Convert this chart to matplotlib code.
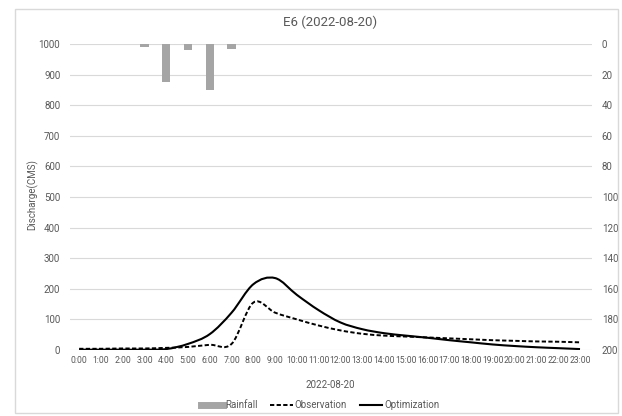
import numpy as np
import matplotlib
matplotlib.use("Agg")
from matplotlib import pyplot as plt
from matplotlib.path import Path
from matplotlib.patches import PathPatch, Rectangle
from matplotlib.lines import Line2D

plt.rcParams['font.family'] = ['Roboto', 'DejaVu Sans']

# hourly data
hours = ["%d:00" % h for h in range(24)]
rainfall = [0, 0, 0, 2, 25, 4, 30, 3, 0, 0, 0, 0,
            0, 0, 0, 0, 0, 0, 0, 0, 0, 0, 0, 0]
observation = [4, 4, 5, 5, 7, 10, 17, 20, 155, 122, 100, 80,
               64, 53, 47, 44, 41, 38, 35, 32, 30, 28, 27, 25]
optimization = [1, 1, 1, 1, 3, 20, 52, 122, 215, 235, 180, 130,
                90, 68, 55, 47, 40, 32, 25, 18, 13, 9, 6, 3]

TXT = "#595959"
GRID = "#d9d9d9"
W, H = 622, 416


def smooth_path(xs, ys):
    # Excel-style smoothed line: bezier segments through the data points
    pts = np.column_stack([xs, ys]).astype(float)
    n = len(pts)
    verts = [pts[0]]
    codes = [Path.MOVETO]
    for i in range(n - 1):
        p0 = pts[max(i - 1, 0)]
        p1 = pts[i]
        p2 = pts[i + 1]
        p3 = pts[min(i + 2, n - 1)]
        verts += [p1 + (p2 - p0) / 6, p2 - (p3 - p1) / 6, p2]
        codes += [Path.CURVE4] * 3
    return Path(verts, codes)


fig = plt.figure(figsize=(W / 100, H / 100), dpi=100)
ax = fig.add_axes([70 / W, 1 - 350 / H, (592 - 70) / W, (350 - 44) / H])
ax2 = ax.twinx()

x = np.arange(len(hours))

ax.add_patch(PathPatch(smooth_path(x, observation), fill=False,
                       ec="black", lw=1.4, ls=(0, (2.2, 1.2)), zorder=3))
ax.add_patch(PathPatch(smooth_path(x, optimization), fill=False,
                       ec="black", lw=1.5, zorder=3))

ax2.bar(x, rainfall, width=0.38, color="#a5a5a5", zorder=2)

ax.set_xlim(-0.42, 23.55)
ax.set_ylim(0, 1000)
ax2.set_ylim(200, 0)

ax.set_yticks(np.arange(0, 1001, 100))
ax2.set_yticks(np.arange(0, 201, 20))
ax.set_xticks(x)
ax.set_xticklabels(hours)

ax.grid(axis="y", color=GRID, lw=0.8)
ax.set_axisbelow(True)
for a in (ax, ax2):
    for s in a.spines.values():
        s.set_visible(False)
    a.tick_params(length=0, colors=TXT, labelsize=7)
ax.tick_params(axis="x", labelsize=6.2, pad=4)
ax.tick_params(axis="y", pad=7)
ax2.tick_params(axis="y", pad=7)

fig.text(330 / W, 1 - 22 / H, "E6 (2022-08-20)", ha="center", va="center",
         fontsize=9.5, color=TXT)
fig.text(32 / W, 1 - 195 / H, "Discharge(CMS)", rotation=90, ha="center",
         va="center", fontsize=7, color=TXT)
fig.text(330 / W, 1 - 385 / H, "2022-08-20", ha="center", va="center",
         fontsize=7, color=TXT)

handles = [Line2D([], [], color="#a5a5a5", lw=5),
           Line2D([], [], color="black", lw=1.4, ls=(0, (2.2, 1.2))),
           Line2D([], [], color="black", lw=1.5)]
leg = fig.legend(handles, ["Rainfall", "Observation", "Optimization"],
                 loc="center", bbox_to_anchor=(320 / W, 1 - 405 / H), ncol=3,
                 frameon=False, fontsize=7, handlelength=2.3,
                 handletextpad=0.2, columnspacing=1.3)
for t in leg.get_texts():
    t.set_color(TXT)

fig.patches.append(Rectangle((15 / W, 3 / H), (618 - 15) / W, (413 - 9) / H,
                             transform=fig.transFigure, fill=False,
                             ec=GRID, lw=1))

fig.savefig("out.png", dpi=100)
